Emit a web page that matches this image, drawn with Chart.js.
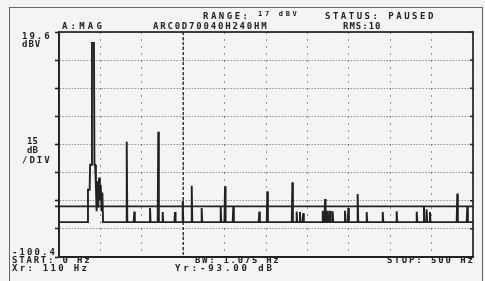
<!DOCTYPE html>
<html>
<head>
<meta charset="utf-8">
<script src="https://cdn.jsdelivr.net/npm/chart.js@4"></script>
<style>
  html, body { margin: 0; padding: 0; background: #f4f4f2; }
  #wrap { position: relative; width: 485px; height: 281px; overflow: hidden; }
  #frame { position: absolute; left: 9px; top: 7px; width: 474px; height: 300px; border: 1.5px solid #666; box-sizing: border-box; }
  canvas { position: absolute; left: 0; top: 0; }
  .lbl { position: absolute; font-family: "DejaVu Sans Mono", monospace; font-weight: bold; font-size: 9px; line-height: 9px; color: #222; white-space: pre; }
</style>
</head>
<body>
<div id="wrap">
  <div id="frame"></div>
  <canvas id="spectrum" width="485" height="281"></canvas>

  <div class="lbl" style="left:203px;top:12px;letter-spacing:2.5px">RANGE:</div>
  <div class="lbl" style="left:258px;top:10.5px;font-size:7px;line-height:7px;letter-spacing:2.7px">17 dBV</div>
  <div class="lbl" style="left:325px;top:11.7px;letter-spacing:2.5px">STATUS: PAUSED</div>
  <div class="lbl" style="left:62px;top:21.7px;letter-spacing:3.2px">A:MAG</div>
  <div class="lbl" style="left:153px;top:21.7px;letter-spacing:1.8px">ARC0D70040H240HM</div>
  <div class="lbl" style="left:343px;top:21.7px;letter-spacing:1px">RMS:10</div>

  <div class="lbl" style="left:22px;top:32.3px;letter-spacing:2px">19.6</div>
  <div class="lbl" style="left:22px;top:39.7px;letter-spacing:1px">dBV</div>
  <div class="lbl" style="left:27px;top:137.3px">15</div>
  <div class="lbl" style="left:27px;top:145.7px">dB</div>
  <div class="lbl" style="left:22px;top:155.7px;letter-spacing:2px">/DIV</div>

  <div class="lbl" style="left:12px;top:248.3px;letter-spacing:2.1px">-100.4</div>
  <div class="lbl" style="left:12px;top:256.3px;letter-spacing:1.8px">START: 0 Hz</div>
  <div class="lbl" style="left:12px;top:264px;letter-spacing:2.3px">Xr: 110 Hz</div>
  <div class="lbl" style="left:195px;top:256.3px;letter-spacing:1.7px">BW: 1.075 Hz</div>
  <div class="lbl" style="left:175px;top:264px;letter-spacing:2.9px">Yr:-93.00 dB</div>
  <div class="lbl" style="left:387px;top:256.3px;letter-spacing:1.9px">STOP: 500 Hz</div>
</div>

<script>
// noise floor of the trace (dB)
const floorLevel = -81.8

// the big component near 41 Hz, drawn point by point with its shoulders
const mainFreqs  = [34.4, 35.0, 37.0, 37.6, 39.4, 39.8, 42.2, 42.8, 43.6, 44.6, 45.4, 46.4, 47.4, 48.4, 49.4, 50.4, 51.4, 52.4, 53.2]
const mainLevels = [-81.8, -64.5, -64.5, -51.2, -51.2, 13.8, 13.8, -51.2, -51.2, -63, -76, -60, -74, -58, -70, -62, -76, -66, -81.8]

// single spikes
const spikeFreqs  = [81.8, 90.9, 109.9, 119.9, 125.2, 140.1, 149.4, 160.3, 172.3, 195.3, 200.5, 210.5,
                     241.9, 251.6, 281.8, 287.0, 291.0, 295.0, 318.5, 321.3, 324.0, 327.3, 330.5,
                     345.4, 349.4, 360.7, 371.6, 391.0, 407.8, 432.0, 440.8, 444.0, 448.0, 481.0, 493.1]
const spikeLevels = [-38.9, -76.2, -74.3, -33.6, -76.4, -76.4, -70.4, -62.4, -74.3, -73.7, -62.7, -73.6,
                     -76.2, -65.4, -60.6, -76.2, -76.4, -77, -75.7, -69.5, -75.7, -75.7, -76,
                     -75.7, -74.3, -66.8, -76.4, -76.4, -76, -76.2, -73.6, -75, -76.4, -66.6, -73.3]

const yTicks = [19.6, 4.6, -10.4, -25.4, -40.4, -55.4, -70.4, -85.4, -100.4]
const xTicks = [0, 50, 100, 150, 200, 250, 300, 350, 400, 450, 500]

const refLevel = -73.4   // Yr reference line
const markerFreq = 150   // dashed marker line

// build the trace
let trace = [{x: 0, y: floorLevel}, {x: 500, y: floorLevel}]
mainFreqs.forEach(function(f, i){ trace.push({x: f, y: mainLevels[i]}) })
spikeFreqs.forEach(function(f, i){
    trace.push({x: f - 0.7, y: floorLevel})
    trace.push({x: f, y: spikeLevels[i]})
    trace.push({x: f + 0.7, y: floorLevel})
})
trace.sort(function(a, b){ return a.x - b.x })

const ink = '#222'

const framePlugin = {
    id: 'framePlugin',
    afterDatasetsDraw(chart){
        const ctx = chart.ctx
        const a = chart.chartArea
        const xs = chart.scales.x
        const ys = chart.scales.y
        ctx.save()
        // marker
        const mx = xs.getPixelForValue(markerFreq)
        ctx.strokeStyle = ink
        ctx.lineWidth = 1.3
        ctx.setLineDash([3, 2])
        ctx.beginPath()
        ctx.moveTo(mx, a.top)
        ctx.lineTo(mx, a.bottom)
        ctx.stroke()
        ctx.setLineDash([])
        // reference line
        const ry = ys.getPixelForValue(refLevel)
        ctx.lineWidth = 1.7
        ctx.beginPath()
        ctx.moveTo(a.left - 4, ry)
        ctx.lineTo(a.right, ry)
        ctx.stroke()
        // right side ticks
        ctx.lineWidth = 1.5
        yTicks.forEach(function(v){
            const ty = ys.getPixelForValue(v)
            ctx.beginPath()
            ctx.moveTo(a.right - 3, ty)
            ctx.lineTo(a.right, ty)
            ctx.stroke()
        })
        // box
        ctx.lineWidth = 1.7
        ctx.strokeRect(a.left, a.top, a.right - a.left, a.bottom - a.top)
        ctx.restore()
    }
}

const spectrum = document.getElementById('spectrum').getContext('2d')

new Chart(spectrum, {
    type: 'line',
    data: {
        datasets: [{
            label: 'A:MAG',
            data: trace,
            borderColor: ink,
            borderWidth: 1.9,
            pointRadius: 0,
            tension: 0,
            fill: false
        }]
    },
    options: {
        responsive: false,
        animation: false,
        layout: { padding: { left: 55, top: 32, right: 12, bottom: 24 } },
        plugins: { legend: { display: false }, tooltip: { enabled: false } },
        scales: {
            x: {
                type: 'linear',
                min: 0,
                max: 500,
                afterBuildTicks: function(scale){ scale.ticks = xTicks.map(function(v){ return {value: v} }) },
                ticks: { display: false },
                grid: { color: 'rgba(0,0,0,0.4)', lineWidth: 1, drawTicks: false },
                border: { display: true, color: ink, width: 1.7, dash: [2, 5] }
            },
            y: {
                min: -100.4,
                max: 19.6,
                afterBuildTicks: function(scale){ scale.ticks = yTicks.map(function(v){ return {value: v} }) },
                ticks: { display: false },
                grid: { color: 'rgba(0,0,0,0.6)', lineWidth: 1, tickLength: 4, tickColor: ink, tickWidth: 1.6 },
                border: { display: true, color: ink, width: 1.7, dash: [1, 2] }
            }
        }
    },
    plugins: [framePlugin]
})
</script>
</body>
</html>
